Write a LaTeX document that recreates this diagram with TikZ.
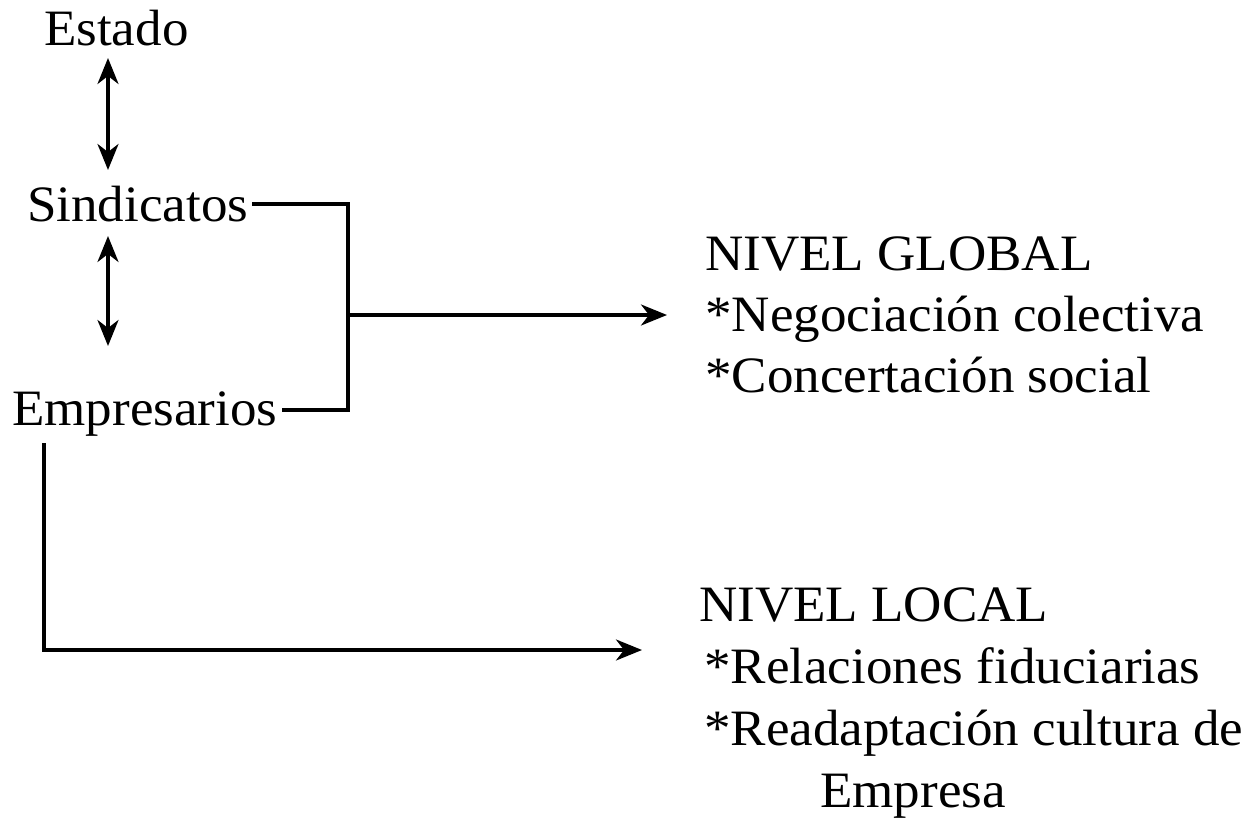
\documentclass[tikz,border=0pt]{standalone}
\usepackage{fontspec}
\setmainfont{Liberation Serif}[FakeStretch=1.04]
\usetikzlibrary{arrows.meta}
\tikzset{
  lbl/.style={inner sep=0pt, font=\fontsize{51}{56}\selectfont},
  conn/.style={line width=3.2pt, line cap=butt},
  tip/.style={-{Stealth[length=26pt,width=21pt,inset=8pt]}},
  dbl/.style={{Stealth[length=26pt,width=21pt,inset=8pt]}-{Stealth[length=26pt,width=21pt,inset=8pt]}}
}
\begin{document}
\begin{tikzpicture}[x=1pt,y=-1pt]
\useasboundingbox (0,0) rectangle (1248,824);
% left labels
\node[lbl, anchor=base west] (estado) at (44,46) {Estado};
\node[lbl, anchor=base west] (sind) at (27,222) {Sindicatos};
\node[lbl, anchor=base west] (emp) at (12,425) {Empresarios};
% right labels
\node[lbl, anchor=base west] (g1) at (705,270) {NIVEL GLOBAL};
\node[lbl, anchor=base west] (g2) at (705,331) {*Negociación colectiva};
\node[lbl, anchor=base west] (g3) at (705,392) {*Concertación social};
\node[lbl, anchor=base west] (l1) at (699,621) {NIVEL LOCAL};
\node[lbl, anchor=base west] (l2) at (704,683) {*Relaciones fiduciarias};
\node[lbl, anchor=base west] (l3) at (704,745) {*Readaptación cultura de};
\node[lbl, anchor=base] (l4) at (913,807) {Empresa};
% helper coordinates
\coordinate (ax) at (108,0);
\coordinate (jx) at (348,315);
\coordinate (gt) at (667,315);
\coordinate (lx) at (44,0);
\coordinate (lc) at (44,650);
\coordinate (lt) at (642,650);
% vertical double arrows
\draw[conn,dbl] (ax |- 0,58) -- (ax |- 0,170);
\draw[conn,dbl] (ax |- 0,236) -- (ax |- 0,346);
% bracket to global
\draw[conn] (sind.base east) ++(4pt,18pt) coordinate (s1) (s1) -| (jx) |- ([xshift=4pt,yshift=15pt]emp.base east);
\draw[conn,tip] (jx) -- (gt);
% lower path to local
\draw[conn,tip] (lx |- 0,443) -- (lc) -- (lt);
\end{tikzpicture}
\end{document}
